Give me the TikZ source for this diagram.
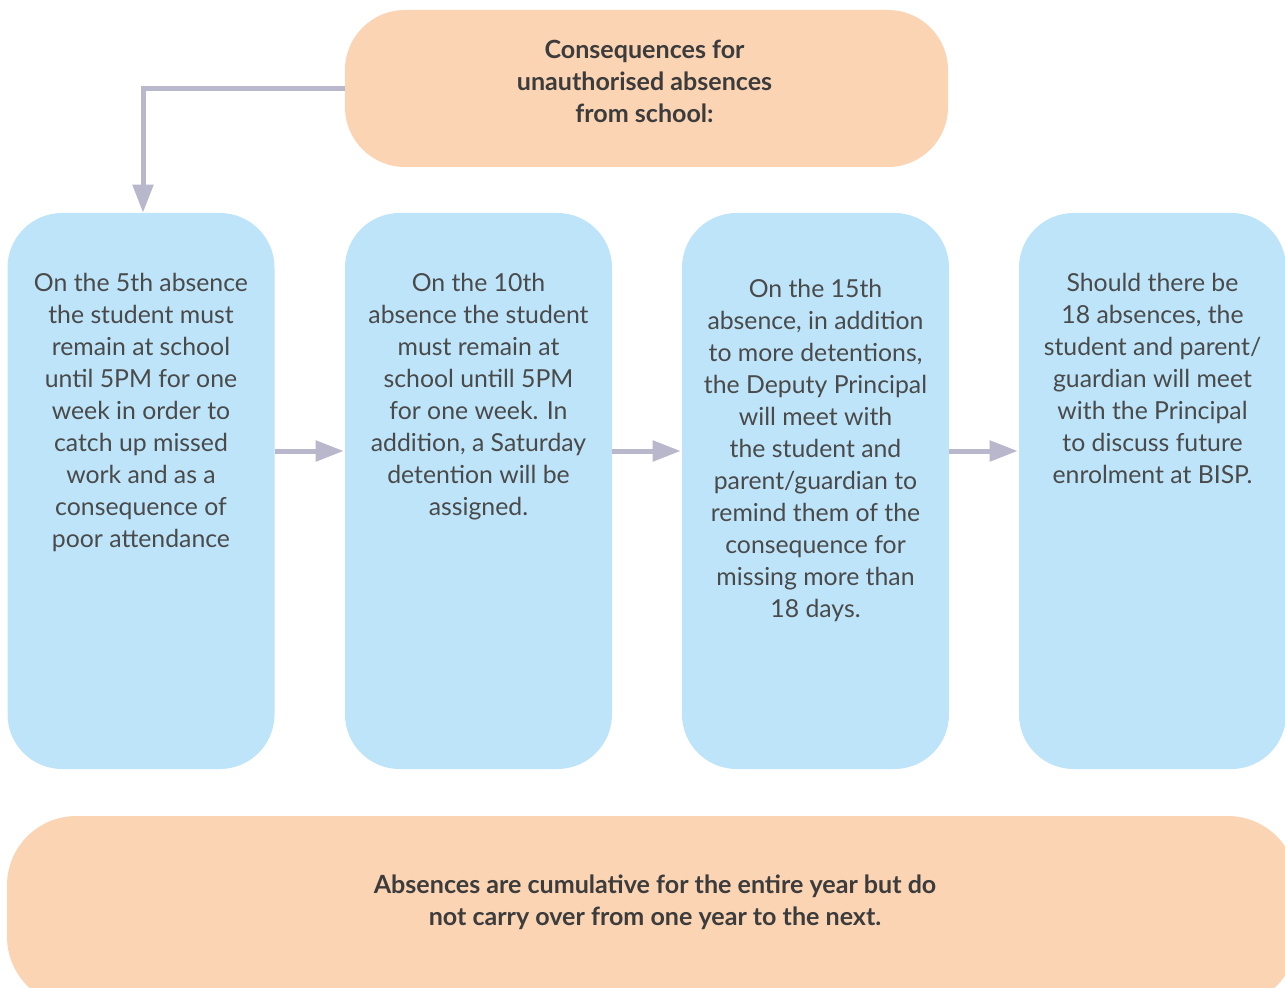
\documentclass[tikz,border=0pt]{standalone}
\usepackage{fontspec}
\setmainfont{Lato}
\usetikzlibrary{arrows.meta,calc}
\definecolor{peach}{HTML}{FBD4B4}
\definecolor{skyb}{HTML}{BDE4F9}
\definecolor{arrg}{HTML}{B8B7CB}
\definecolor{txtg}{HTML}{4A4A4A}
\definecolor{txtd}{HTML}{3C3C3C}
\tikzset{
  peachbox/.style={fill=peach, draw=none, rectangle, inner sep=0},
  bluebox/.style={fill=skyb, draw=none, rectangle, rounded corners=41pt, minimum width=267*0.75pt, minimum height=556*0.75pt, inner sep=0},
  bodytext/.style={text=txtg, align=center, inner sep=0, font=\fontsize{18.6}{24}\selectfont},
  headtext/.style={text=txtd, align=center, inner sep=0, font=\bfseries\fontsize{18.8}{24}\selectfont},
  flowarrow/.style={draw=arrg, line width=3.75pt, -{Triangle[length=21pt,width=15pt]}},
}
\begin{document}
\begin{tikzpicture}[x=0.75pt,y=-0.75pt]
\clip (0,0) rectangle (1285,988);
\fill[white] (0,0) rectangle (1285,988);
% top box
\node[peachbox, rounded corners=45pt, minimum width=603*0.75pt, minimum height=157*0.75pt] (top) at (646.5,88.5) {};
\node[headtext] (toptext) at ($(top.center)+(-2,-7)$) {Consequences for\\unauthorised absences\\from school:};
% blue boxes
\node[bluebox] (b1) at (141,491) {};
\node[bluebox] (b2) at (478.5,491) {};
\node[bluebox] (b3) at (815.5,491) {};
\node[bluebox] (b4) at (1152.5,491) {};
\node[bodytext, anchor=north] (t1) at ($(b1.north)+(0,60)$) {On the 5th absence\\the student must\\remain at school\\until 5PM for one\\week in order to\\catch up missed\\work and as a\\consequence of\\poor attendance};
\node[bodytext, anchor=north] (t2) at ($(b2.north)+(0,60)$) {On the 10th\\absence the student\\must remain at\\school untill 5PM\\for one week. In\\addition, a Saturday\\detention will be\\assigned.};
\node[bodytext, anchor=north] (t3) at ($(b3.north)+(0,66)$) {On the 15th\\absence, in addition\\to more detentions,\\the Deputy Principal\\will meet with\\the student and\\parent/guardian to\\remind them of the\\consequence for\\missing more than\\18 days.};
\node[bodytext, anchor=north] (t4) at ($(b4.north)+(0,60)$) {Should there be\\18 absences, the\\student and parent/\\guardian will meet\\with the Principal\\to discuss future\\enrolment at BISP.};
% bottom box
\node[peachbox, rounded corners=52pt, minimum width=1290*0.75pt, minimum height=190*0.75pt] (bot) at (652,911) {};
\node[headtext] (bottext) at (655,902) {Absences are cumulative for the entire year but do\\not carry over from one year to the next.};
% arrows
\coordinate (corner) at ($(top.west)!1!(top.west -| b1.north)+(2,0)$);
\draw[flowarrow] (top.west) -- (corner) -- (corner |- b1.north);
\draw[flowarrow] ($(b1.east)+(0,-40)$) -- ($(b2.west)+(-1,-40)$);
\draw[flowarrow] ($(b2.east)+(0,-40)$) -- ($(b3.west)+(-1,-40)$);
\draw[flowarrow] ($(b3.east)+(0,-40)$) -- ($(b4.west)+(-1,-40)$);
\end{tikzpicture}
\end{document}
